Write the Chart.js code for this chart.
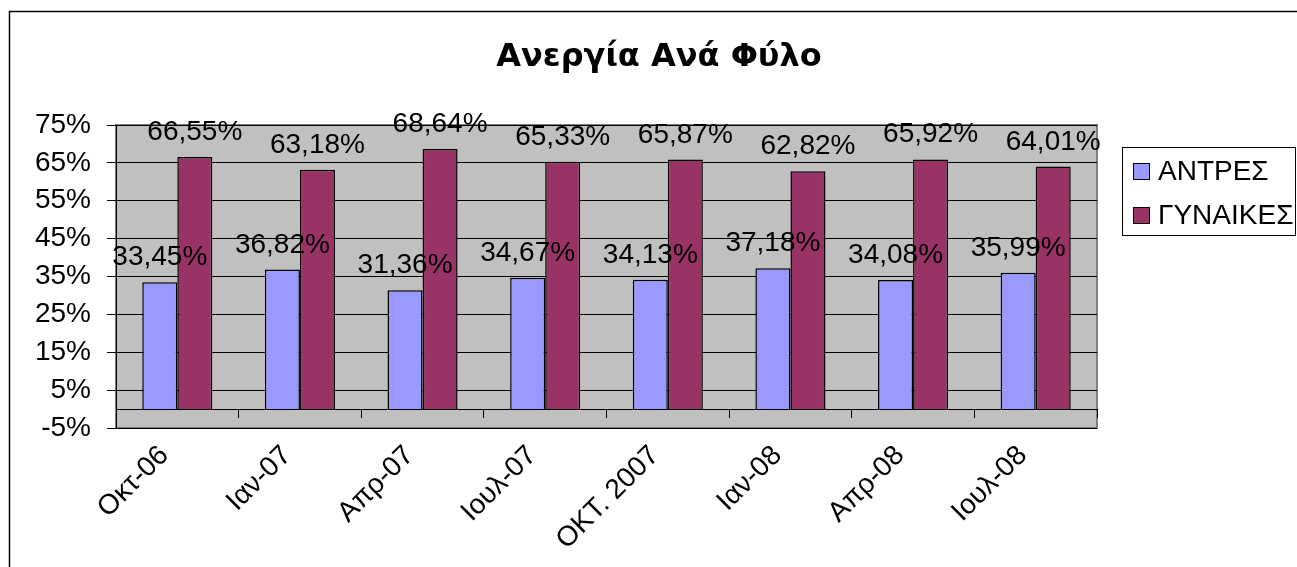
<!DOCTYPE html>
<html>
<head>
<meta charset="utf-8">
<script src="https://cdn.jsdelivr.net/npm/chart.js@4.4.1/dist/chart.umd.min.js"></script>
<style>
  html, body { margin: 0; padding: 0; background: #fff; }
  #wrap { width: 1297px; height: 567px; position: relative; }
</style>
</head>
<body>
<div id="wrap"><canvas id="chart"></canvas></div>
<script>
// --- data ---
const chartTitle = 'Ανεργία Ανά Φύλο';
const categories = ['Οκτ-06', 'Ιαν-07', 'Απρ-07', 'Ιουλ-07', 'ΟΚΤ. 2007', 'Ιαν-08', 'Απρ-08', 'Ιουλ-08'];
const seriesNames = ['ΑΝΤΡΕΣ', 'ΓΥΝΑΙΚΕΣ'];
const men = [33.45, 36.82, 31.36, 34.67, 34.13, 37.18, 34.08, 35.99];
const women = [66.55, 63.18, 68.64, 65.33, 65.87, 62.82, 65.92, 64.01];
const yMin = -5, yMax = 75, yStep = 10;

const FONT = "'Liberation Sans', Arial, sans-serif";
const colors = ['#9999FF', '#993366'];

function pct(v) {
    return v.toFixed(2).replace('.', ',') + '%';
}

// plot area background, outer frame, title, legend and value labels
const frame = {
    id: 'frame',
    beforeDraw(chart) {
        const {ctx, chartArea: a} = chart;
        ctx.save();
        ctx.fillStyle = '#fff';
        ctx.fillRect(0, 0, chart.width, chart.height);
        ctx.fillStyle = '#C0C0C0';
        ctx.fillRect(a.left, a.top, a.right - a.left, a.bottom - a.top);
        ctx.strokeStyle = '#808080';
        ctx.lineWidth = 2;
        ctx.strokeRect(a.left, a.top, a.right - a.left, a.bottom - a.top);
        ctx.restore();
    },
    afterDraw(chart) {
        const {ctx} = chart;
        ctx.save();
        // outer chart border (runs off the picture right and bottom)
        ctx.strokeStyle = '#000';
        ctx.lineWidth = 1.5;
        ctx.strokeRect(9.5, 11.5, 1400, 700);

        // title
        ctx.fillStyle = '#000';
        ctx.font = "bold 32px 'DejaVu Sans', sans-serif";
        ctx.textAlign = 'center';
        ctx.textBaseline = 'middle';
        ctx.fillText(chartTitle, 659, 58);

        // legend
        ctx.fillStyle = '#fff';
        ctx.fillRect(1122, 147, 174, 88);
        ctx.strokeStyle = '#000';
        ctx.lineWidth = 1;
        ctx.strokeRect(1122.5, 147.5, 173, 88);
        ctx.font = '28px ' + FONT;
        ctx.textAlign = 'left';
        chart.data.datasets.forEach((ds, i) => {
            const y = 163 + i * 44;
            ctx.fillStyle = ds.backgroundColor;
            ctx.fillRect(1133, y, 17, 17);
            ctx.strokeRect(1133.5, y + 0.5, 16, 16);
            ctx.fillStyle = '#000';
            ctx.fillText(ds.label, 1158, y + 9);
        });
        ctx.restore();
    },
    afterDatasetsDraw(chart) {
        const {ctx} = chart;
        ctx.save();
        ctx.font = '28px ' + FONT;
        ctx.fillStyle = '#000';
        ctx.textAlign = 'center';
        ctx.textBaseline = 'alphabetic';
        chart.data.datasets.forEach((ds, i) => {
            chart.getDatasetMeta(i).data.forEach((bar, j) => {
                ctx.fillText(pct(ds.data[j]), bar.x, bar.y - 17);
            });
        });
        ctx.restore();
    }
};

new Chart(document.getElementById('chart'), {
    type: 'bar',
    data: {
        labels: categories,
        datasets: [
            { label: seriesNames[0], data: men, backgroundColor: colors[0], borderColor: '#000', borderWidth: 1.5 },
            { label: seriesNames[1], data: women, backgroundColor: colors[1], borderColor: '#000', borderWidth: 1.5 }
        ]
    },
    options: {
        responsive: true,
        maintainAspectRatio: false,
        animation: false,
        layout: { padding: { left: 0, top: 125, right: 200, bottom: 139 } },
        datasets: { bar: { categoryPercentage: 2 / 3.5, barPercentage: 1 } },
        plugins: {
            legend: { display: false },
            title: { display: false },
            tooltip: { enabled: false }
        },
        scales: {
            x: {
                position: { y: 0 },
                grid: { drawOnChartArea: false, drawTicks: true, tickLength: 8, color: '#000', offset: true },
                border: { color: '#000', width: 1 },
                ticks: {
                    color: '#000',
                    font: { family: FONT, size: 28 },
                    minRotation: 45,
                    maxRotation: 45,
                    padding: 22,
                    labelOffset: -13,
                    autoSkip: false
                }
            },
            y: {
                min: yMin,
                max: yMax,
                afterFit(scale) { scale.width = 116; },
                grid: { color: '#000', lineWidth: 1, tickLength: 9 },
                border: { color: '#000', width: 1 },
                ticks: {
                    stepSize: yStep,
                    color: '#000',
                    padding: 16,
                    font: { family: FONT, size: 28 },
                    callback: v => v + '%'
                }
            }
        }
    },
    plugins: [frame]
});
</script>
</body>
</html>
